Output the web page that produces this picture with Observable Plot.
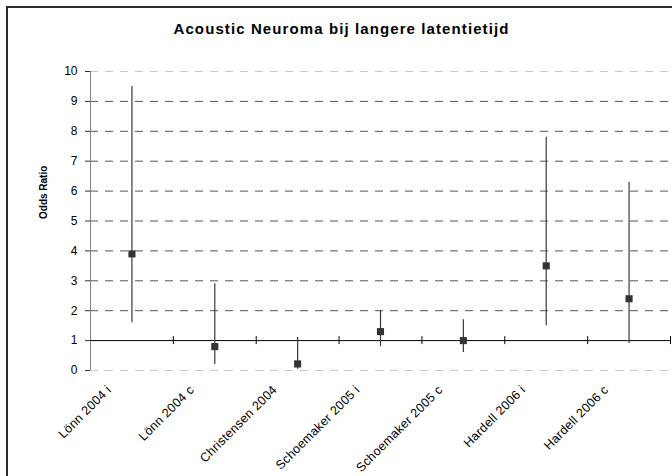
<!DOCTYPE html>
<html><head><meta charset="utf-8">
<script src="https://cdn.jsdelivr.net/npm/d3@7"></script>
<script src="https://cdn.jsdelivr.net/npm/@observablehq/plot@0.6"></script>
<style>
html,body{margin:0;padding:0;background:#fff;overflow:hidden}
#wrap{position:relative;width:672px;height:476px;overflow:hidden;font-family:"Liberation Sans",Arial,sans-serif}
#border{position:absolute;left:6px;top:6px;width:700px;height:500px;border:2px solid #2a2a2a;box-sizing:border-box}
#title{position:absolute;left:0;top:20px;width:683px;text-align:center;font-weight:bold;font-size:15px;letter-spacing:1.1px;color:#000;line-height:17px}
#chart{position:absolute;left:0;top:0}
</style></head><body>
<div id="wrap"><div id="border"></div><div id="title">Acoustic Neuroma bij langere latentietijd</div><div id="chart"></div></div>
<script>
const studies = ["Lönn 2004 i", "Lönn 2004 c", "Christensen 2004", "Schoemaker 2005 i", "Schoemaker 2005 c", "Hardell 2006 i", "Hardell 2006 c"];
const oddsRatio = [3.9, 0.8, 0.22, 1.3, 1.0, 3.5, 2.4];
const ciLow = [1.6, 0.2, 0.04, 0.8, 0.6, 1.5, 0.9];
const ciHigh = [9.5, 2.9, 1.1, 2.0, 1.7, 7.8, 6.3];
const yTicks = [0, 1, 2, 3, 4, 5, 6, 7, 8, 9, 10];
const gridValues = [0, 2, 3, 4, 5, 6, 7, 8, 9, 10];
const yLabel = "Odds Ratio";

const data = studies.map((s, i) => ({study: s, pos: i + 0.5, or: oddsRatio[i], lo: ciLow[i], hi: ciHigh[i]}));
const boundaries = d3.range(1, studies.length + 1);

const chart = Plot.plot({
  width: 672,
  height: 476,
  marginLeft: 90,
  marginRight: 2,
  marginTop: 71,
  marginBottom: 106,
  style: {fontFamily: "'Liberation Sans', Arial, sans-serif", fontSize: "12px", color: "#000", background: "transparent"},
  x: {domain: [0, studies.length], axis: null},
  y: {domain: [0, 10], axis: null},
  marks: [
    Plot.ruleY(gridValues, {stroke: d => (d === 0 || d === 10) ? "#c8c8c8" : "#555", strokeDasharray: "8,7", strokeWidth: 1}),
    Plot.ruleX([0], {y1: 0, y2: 10, stroke: "#808080", strokeWidth: 1}),
    Plot.axisY({ticks: yTicks, tickSize: 5, tickPadding: 8, label: null, stroke: "#333", fill: "#000"}),
    Plot.ruleY([1], {stroke: "#000", strokeWidth: 1}),
    Plot.ruleX(boundaries, {y1: 1, y2: 1, insetTop: -4, insetBottom: -4, stroke: "#000", strokeWidth: 1}),
    Plot.ruleX(data, {x: "pos", y1: "lo", y2: "hi", stroke: "#3a3a3a", strokeWidth: 1.2}),
    Plot.dot(data, {x: "pos", y: "or", symbol: "square", r: 4, fill: "#333", stroke: null}),
    Plot.text(studies, {x: (d, i) => i + 0.5, frameAnchor: "bottom", text: d => d, rotate: -45, textAnchor: "end", dx: -20, dy: 20, fill: "#000", fontSize: 12.5}),
    Plot.text([yLabel], {frameAnchor: "left", text: d => d, rotate: -90, dx: -47, dy: -2, fontWeight: "bold", fontSize: 10, fill: "#000"})
  ]
});
d3.select(chart).selectAll("text")
  .filter(function () { return studies.includes(this.textContent); })
  .style("letter-spacing", "0.3px");
document.getElementById("chart").appendChild(chart);
</script>
</body></html>
